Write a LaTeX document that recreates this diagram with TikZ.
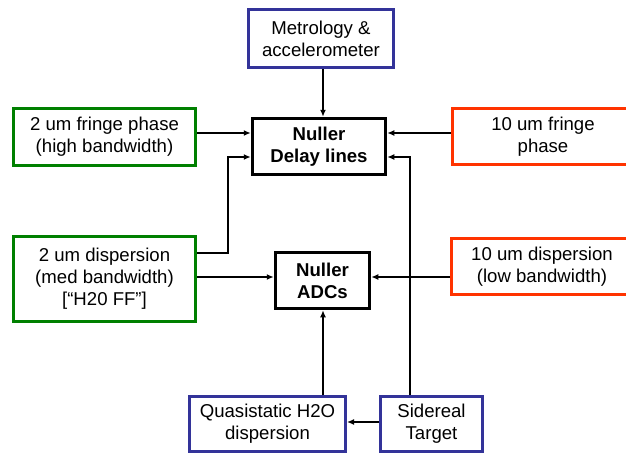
\documentclass[tikz,border=0pt]{standalone}
\usepackage{fontspec}
\setmainfont{Liberation Sans}
\usetikzlibrary{arrows.meta}
\definecolor{bgreen}{RGB}{0,128,0}
\definecolor{bblue}{RGB}{51,51,153}
\definecolor{bred}{RGB}{255,51,0}
\begin{document}
\begin{tikzpicture}[x=1pt,y=-1pt,
  box/.style={draw,line width=3pt,fill=white,align=center,inner sep=0pt,
    font=\fontsize{18.6}{22}\selectfont},
  gbox/.style={box,draw=bgreen},
  bbox/.style={box,draw=bblue},
  rbox/.style={box,draw=bred},
  kbox/.style={box,draw=black,line width=3.5pt,font=\fontsize{18.6}{22}\selectfont\bfseries},
  arr/.style={line width=1.5pt,-{Latex[length=7pt,width=6pt]}},
  ln/.style={line width=1.5pt}]
\useasboundingbox (0,0) rectangle (626,455);
\node[bbox,minimum width=145pt,minimum height=58pt] (met) at (321,38.5) {Metrology \&\\accelerometer};
\node[gbox,minimum width=182pt,minimum height=57pt] (g1) at (104.5,137) {2 um fringe phase\\(high bandwidth)};
\node[kbox,minimum width=133pt,minimum height=56pt] (dl) at (319,146.5) {Nuller\\Delay lines};
\node[rbox,minimum width=181pt,minimum height=56pt] (r1) at (543,136.5) {10 um fringe\\phase};
\node[gbox,minimum width=182pt,minimum height=85pt] (g2) at (104.5,279) {2 um dispersion\\(med bandwidth)\\{[}“H20 FF”{]}};
\node[kbox,minimum width=94pt,minimum height=56pt] (adc) at (322.5,280.5) {Nuller\\ADCs};
\node[rbox,minimum width=181pt,minimum height=56pt] (r2) at (542,266.5) {10 um dispersion\\(low bandwidth)};
\node[bbox,minimum width=156pt,minimum height=55pt] (qs) at (267.5,424) {Quasistatic H2O\\dispersion};
\node[bbox,minimum width=102pt,minimum height=55pt] (sid) at (431.5,424) {Sidereal\\Target};
% helper coordinates
\coordinate (yA) at (0,133);
\coordinate (yB) at (0,157);
\coordinate (yC) at (0,253);
\coordinate (yD) at (0,277);
\coordinate (yE) at (0,422);
\coordinate (xL) at (228,0);
\coordinate (xR) at (410,0);
\coordinate (xM) at (323,0);
% connectors
\draw[arr] (met.south -| xM) -- (dl.north -| xM);
\draw[arr] (g1.east |- yA) -- (dl.west |- yA);
\draw[arr] (r1.west |- yA) -- (dl.east |- yA);
\draw[arr] (g2.east |- yC) -| (xL |- yB) -- (dl.west |- yB);
\draw[arr] (g2.east |- yD) -- (adc.west |- yD);
\draw[arr] (r2.west |- yD) -- (adc.east |- yD);
\draw[arr] (sid.north -| xR) |- (dl.east |- yB);
\draw[arr] (sid.west |- yE) -- (qs.east |- yE);
\draw[arr] (qs.north -| xM) -- (adc.south -| xM);
\end{tikzpicture}
\end{document}
